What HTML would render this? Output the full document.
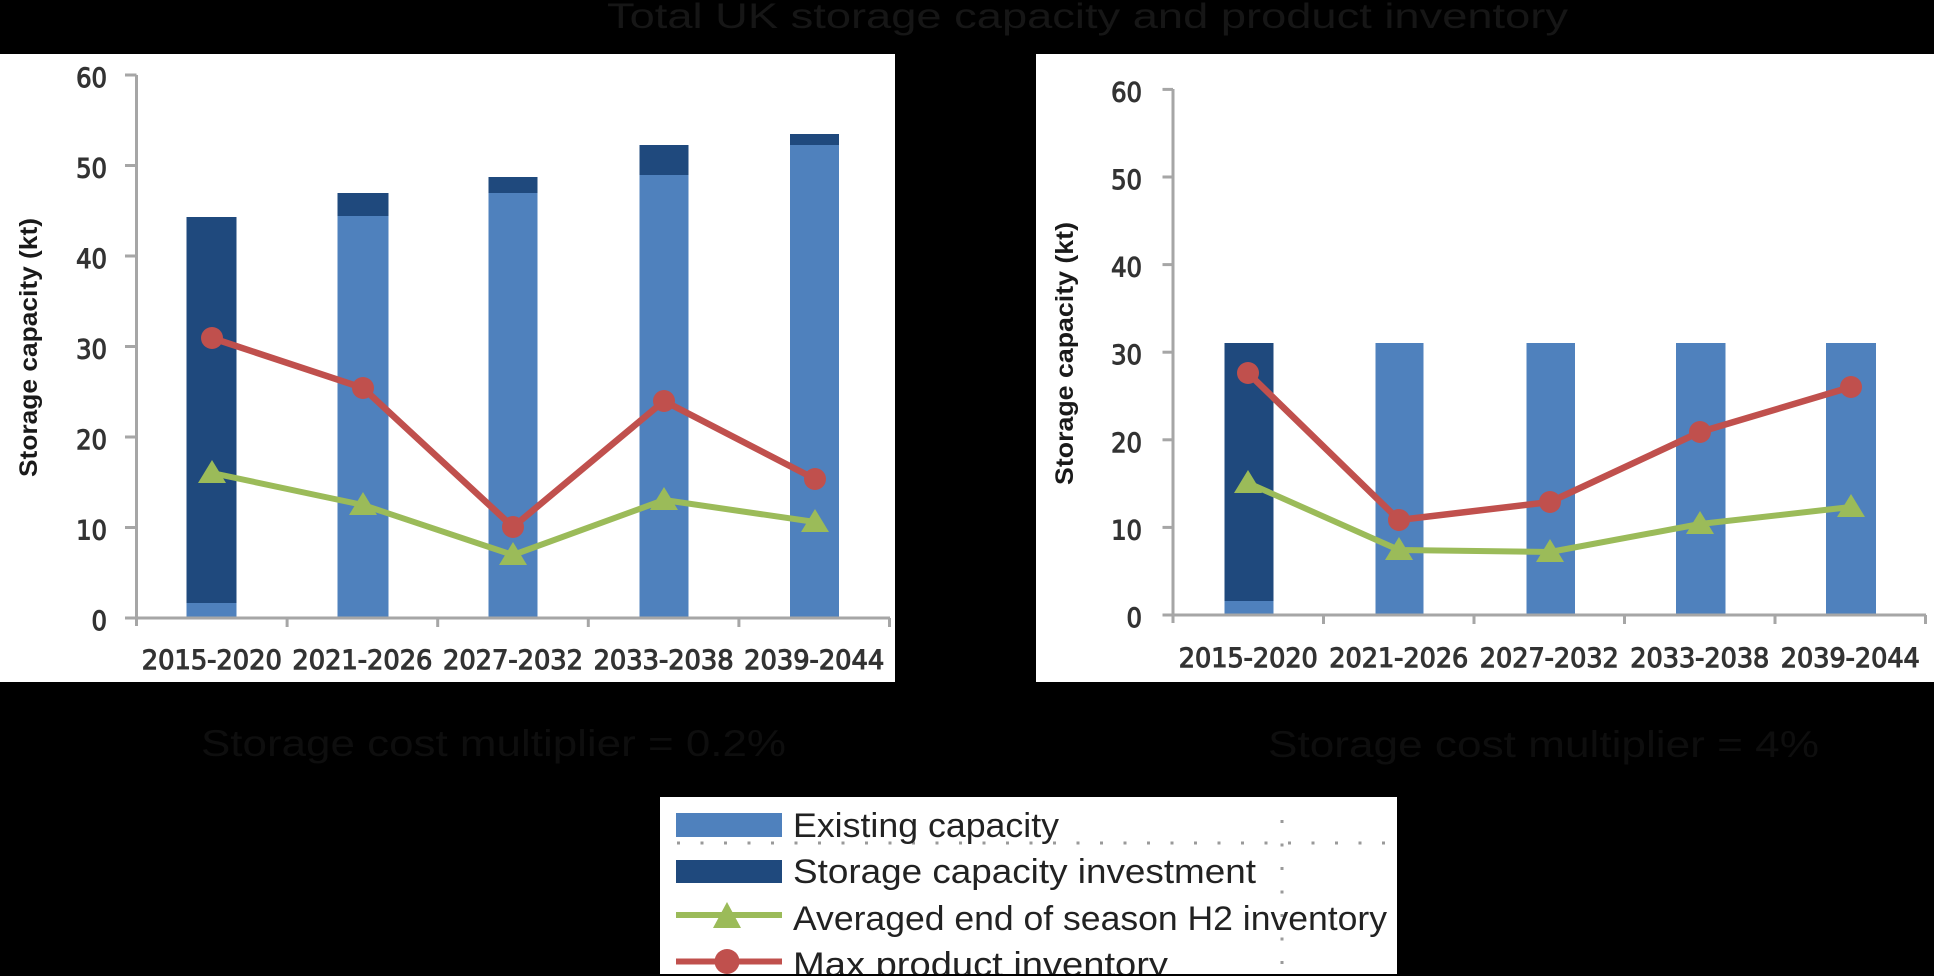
<!DOCTYPE html>
<html><head><meta charset="utf-8"><style>
html,body{margin:0;padding:0;background:#000;}
svg{display:block;}
</style></head><body>
<svg width="1934" height="976" viewBox="0 0 1934 976" xmlns="http://www.w3.org/2000/svg">
<defs>
<clipPath id="lg"><rect x="660" y="797" width="737" height="177"/></clipPath>
</defs>
<rect x="0" y="0" width="1934" height="976" fill="#000"/>
<!-- Title -->
<text x="607" y="28" font-family="Liberation Sans Narrow, Liberation Sans, sans-serif" font-size="35" fill="#161616" textLength="961" lengthAdjust="spacingAndGlyphs">Total UK storage capacity and product inventory</text>

<!-- LEFT PANEL -->
<rect x="0" y="54" width="895" height="628" fill="#fff"/>
<g>
<rect x="186.5" y="217" width="50" height="386" fill="#1F497D"/>
<rect x="186.5" y="603" width="50" height="15" fill="#4F81BD"/>
<rect x="337.5" y="193" width="51" height="23" fill="#1F497D"/>
<rect x="337.5" y="216" width="51" height="402" fill="#4F81BD"/>
<rect x="488.5" y="177" width="49" height="16" fill="#1F497D"/>
<rect x="488.5" y="193" width="49" height="425" fill="#4F81BD"/>
<rect x="639.5" y="145" width="49" height="30" fill="#1F497D"/>
<rect x="639.5" y="175" width="49" height="443" fill="#4F81BD"/>
<rect x="790" y="134" width="49" height="11" fill="#1F497D"/>
<rect x="790" y="145" width="49" height="473" fill="#4F81BD"/>
</g>
<g stroke="#A6A6A6" stroke-width="3" fill="none">
<line x1="136.5" y1="75" x2="136.5" y2="626"/>
<line x1="125" y1="618" x2="890" y2="618"/>
<line x1="125" y1="527.5" x2="136.5" y2="527.5"/>
<line x1="125" y1="437" x2="136.5" y2="437"/>
<line x1="125" y1="346.5" x2="136.5" y2="346.5"/>
<line x1="125" y1="256" x2="136.5" y2="256"/>
<line x1="125" y1="165.5" x2="136.5" y2="165.5"/>
<line x1="125" y1="75" x2="136.5" y2="75"/>
<line x1="287.1" y1="618" x2="287.1" y2="627"/>
<line x1="437.7" y1="618" x2="437.7" y2="627"/>
<line x1="588.3" y1="618" x2="588.3" y2="627"/>
<line x1="738.9" y1="618" x2="738.9" y2="627"/>
<line x1="889.5" y1="618" x2="889.5" y2="627"/>
</g>
<g font-family="DejaVu Sans Condensed, DejaVu Sans, sans-serif" font-size="27" fill="#333" stroke="#333" stroke-width="1" text-anchor="end">
<text x="107" y="630">0</text>
<text x="107" y="539.5">10</text>
<text x="107" y="449">20</text>
<text x="107" y="358.5">30</text>
<text x="107" y="268">40</text>
<text x="107" y="177.5">50</text>
<text x="107" y="87">60</text>
</g>
<g font-family="DejaVu Sans Condensed, DejaVu Sans, sans-serif" font-size="27" fill="#333" stroke="#333" stroke-width="1" text-anchor="middle">
<text x="211.8" y="669" textLength="140" lengthAdjust="spacingAndGlyphs">2015-2020</text>
<text x="362.4" y="669" textLength="140" lengthAdjust="spacingAndGlyphs">2021-2026</text>
<text x="513" y="669" textLength="140" lengthAdjust="spacingAndGlyphs">2027-2032</text>
<text x="663.6" y="669" textLength="140" lengthAdjust="spacingAndGlyphs">2033-2038</text>
<text x="814.2" y="669" textLength="140" lengthAdjust="spacingAndGlyphs">2039-2044</text>
</g>
<text transform="translate(37,347.5) rotate(-90)" text-anchor="middle" font-family="Liberation Sans, sans-serif" font-weight="bold" font-size="25" fill="#1a1a1a" textLength="259" lengthAdjust="spacingAndGlyphs">Storage capacity  (kt)</text>
<polyline points="212,473 363,505 513,555 664,500 815,522" fill="none" stroke="#9BBB59" stroke-width="6" stroke-linejoin="round"/>
<g fill="#9BBB59">
<polygon points="212,460 198,483 226,483"/>
<polygon points="363,492 349,515 377,515"/>
<polygon points="513,542 499,565 527,565"/>
<polygon points="664,487 650,510 678,510"/>
<polygon points="815,509 801,532 829,532"/>
</g>
<polyline points="212,338 363,388 513,527 664,401 815,479" fill="none" stroke="#C0504D" stroke-width="6.5" stroke-linejoin="round"/>
<g fill="#C0504D">
<circle cx="212" cy="338" r="11"/>
<circle cx="363" cy="388" r="11"/>
<circle cx="513" cy="527" r="11"/>
<circle cx="664" cy="401" r="11"/>
<circle cx="815" cy="479" r="11"/>
</g>

<!-- RIGHT PANEL -->
<rect x="1036" y="54" width="898" height="628" fill="#fff"/>
<g>
<rect x="1224.5" y="343" width="49" height="258" fill="#1F497D"/>
<rect x="1224.5" y="601" width="49" height="14" fill="#4F81BD"/>
<rect x="1375.5" y="343" width="48" height="272" fill="#4F81BD"/>
<rect x="1526.5" y="343" width="48.5" height="272" fill="#4F81BD"/>
<rect x="1676" y="343" width="49.5" height="272" fill="#4F81BD"/>
<rect x="1826" y="343" width="50" height="272" fill="#4F81BD"/>
</g>
<g stroke="#A6A6A6" stroke-width="3" fill="none">
<line x1="1173" y1="89" x2="1173" y2="623"/>
<line x1="1162.5" y1="615" x2="1926" y2="615"/>
<line x1="1162.5" y1="527.4" x2="1173" y2="527.4"/>
<line x1="1162.5" y1="439.8" x2="1173" y2="439.8"/>
<line x1="1162.5" y1="352.2" x2="1173" y2="352.2"/>
<line x1="1162.5" y1="264.6" x2="1173" y2="264.6"/>
<line x1="1162.5" y1="177" x2="1173" y2="177"/>
<line x1="1162.5" y1="89.4" x2="1173" y2="89.4"/>
<line x1="1323.5" y1="615" x2="1323.5" y2="624"/>
<line x1="1474" y1="615" x2="1474" y2="624"/>
<line x1="1624.5" y1="615" x2="1624.5" y2="624"/>
<line x1="1775" y1="615" x2="1775" y2="624"/>
<line x1="1925.5" y1="615" x2="1925.5" y2="624"/>
</g>
<g font-family="DejaVu Sans Condensed, DejaVu Sans, sans-serif" font-size="27" fill="#333" stroke="#333" stroke-width="1" text-anchor="end">
<text x="1142" y="627">0</text>
<text x="1142" y="539.4">10</text>
<text x="1142" y="451.8">20</text>
<text x="1142" y="364.2">30</text>
<text x="1142" y="276.6">40</text>
<text x="1142" y="189">50</text>
<text x="1142" y="101.4">60</text>
</g>
<g font-family="DejaVu Sans Condensed, DejaVu Sans, sans-serif" font-size="27" fill="#333" stroke="#333" stroke-width="1" text-anchor="middle">
<text x="1248.3" y="667" textLength="139" lengthAdjust="spacingAndGlyphs">2015-2020</text>
<text x="1398.8" y="667" textLength="139" lengthAdjust="spacingAndGlyphs">2021-2026</text>
<text x="1549.3" y="667" textLength="139" lengthAdjust="spacingAndGlyphs">2027-2032</text>
<text x="1699.8" y="667" textLength="139" lengthAdjust="spacingAndGlyphs">2033-2038</text>
<text x="1850.3" y="667" textLength="139" lengthAdjust="spacingAndGlyphs">2039-2044</text>
</g>
<text transform="translate(1073,353.5) rotate(-90)" text-anchor="middle" font-family="Liberation Sans, sans-serif" font-weight="bold" font-size="25" fill="#1a1a1a" textLength="263" lengthAdjust="spacingAndGlyphs">Storage capacity  (kt)</text>
<polyline points="1248,483 1399,550 1550,552 1700,524 1851,507" fill="none" stroke="#9BBB59" stroke-width="6" stroke-linejoin="round"/>
<g fill="#9BBB59">
<polygon points="1248,470 1234,493 1262,493"/>
<polygon points="1399,537 1385,560 1413,560"/>
<polygon points="1550,539 1536,562 1564,562"/>
<polygon points="1700,511 1686,534 1714,534"/>
<polygon points="1851,494 1837,517 1865,517"/>
</g>
<polyline points="1248,373 1399,520 1550,502 1700,432 1851,387" fill="none" stroke="#C0504D" stroke-width="6.5" stroke-linejoin="round"/>
<g fill="#C0504D">
<circle cx="1248" cy="373" r="11"/>
<circle cx="1399" cy="520" r="11"/>
<circle cx="1550" cy="502" r="11"/>
<circle cx="1700" cy="432" r="11"/>
<circle cx="1851" cy="387" r="11"/>
</g>

<!-- Subtitles (dark on black) -->
<text x="201" y="756" font-family="Liberation Sans Narrow, Liberation Sans, sans-serif" font-size="37" fill="#0e0e0e" textLength="585" lengthAdjust="spacingAndGlyphs">Storage cost multiplier = 0.2%</text>
<text x="1268" y="757" font-family="Liberation Sans Narrow, Liberation Sans, sans-serif" font-size="37" fill="#0e0e0e" textLength="551" lengthAdjust="spacingAndGlyphs">Storage cost multiplier = 4%</text>

<!-- LEGEND -->
<rect x="660" y="797" width="737" height="177" fill="#fff"/>
<g clip-path="url(#lg)">
<line x1="677" y1="843" x2="1397" y2="843" stroke="#9a9a9a" stroke-width="3" stroke-dasharray="3 20.5"/>
<line x1="1282" y1="820" x2="1282" y2="965" stroke="#9a9a9a" stroke-width="3" stroke-dasharray="3 20.5"/>
<rect x="676" y="813" width="106" height="24" fill="#4F81BD"/>
<rect x="676" y="860" width="106" height="23" fill="#1F497D"/>
<line x1="676" y1="915" x2="782" y2="915" stroke="#9BBB59" stroke-width="6"/>
<polygon points="727,902 713,928 741,928" fill="#9BBB59"/>
<line x1="676" y1="961.5" x2="782" y2="961.5" stroke="#C0504D" stroke-width="6"/>
<circle cx="727" cy="961.5" r="12.5" fill="#C0504D"/>
<g font-family="Liberation Sans, sans-serif" font-size="34" fill="#222">
<text x="793" y="837" textLength="266" lengthAdjust="spacingAndGlyphs">Existing capacity</text>
<text x="793" y="883" textLength="463" lengthAdjust="spacingAndGlyphs">Storage capacity investment</text>
<text x="793" y="930" textLength="594" lengthAdjust="spacingAndGlyphs">Averaged end of season H2 inventory</text>
<text x="793" y="976" textLength="375" lengthAdjust="spacingAndGlyphs">Max product inventory</text>
</g>
</g>
</svg>
</body></html>
